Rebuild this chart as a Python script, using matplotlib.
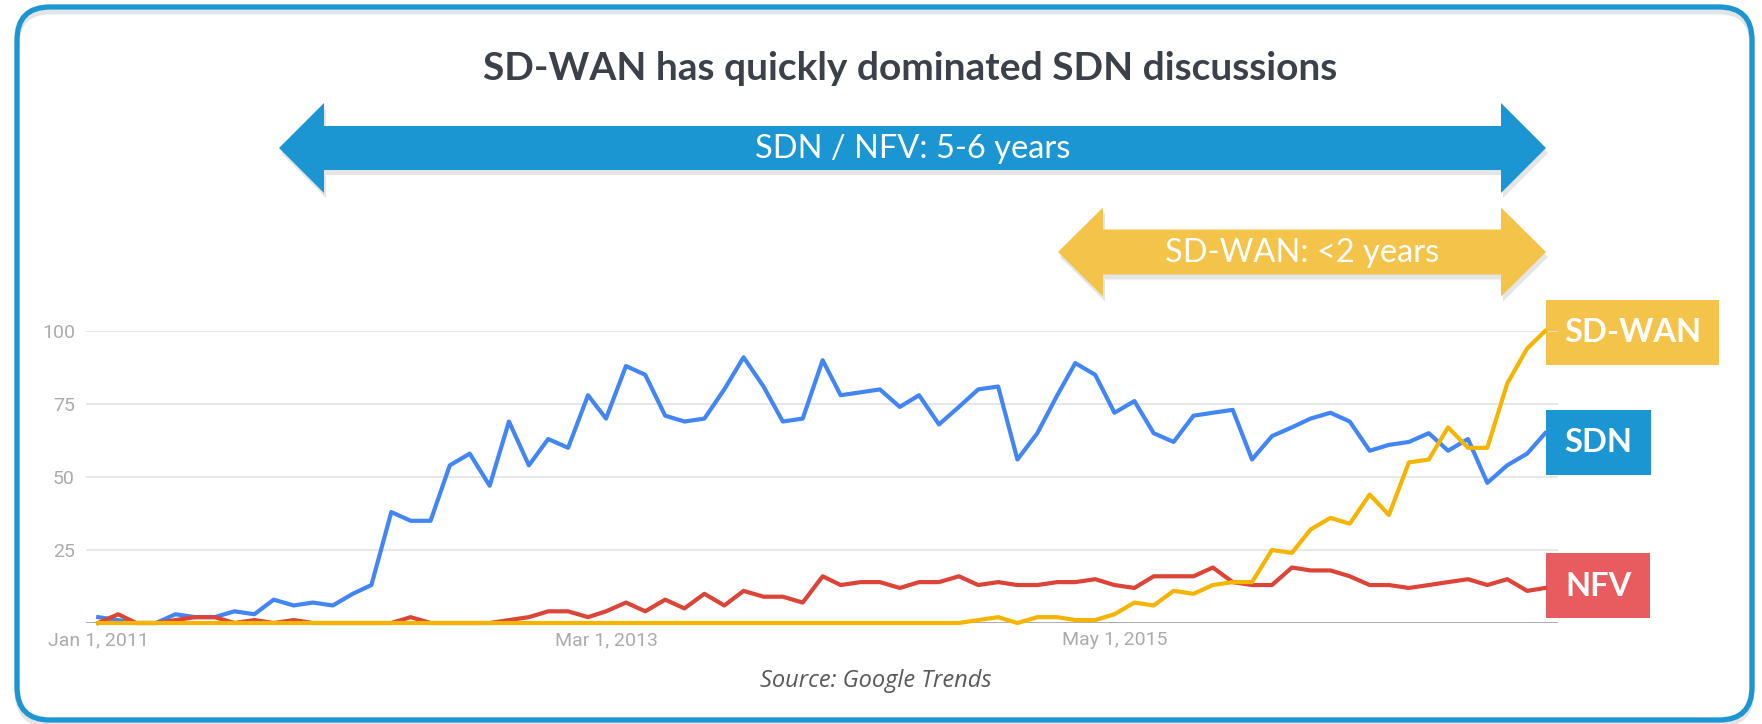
import pandas as pd
import matplotlib
matplotlib.use("Agg")
import matplotlib.pyplot as plt
from matplotlib.patches import Polygon, FancyBboxPatch, Rectangle

W, H = 1762, 724

# monthly Google Trends interest, Jan 2011 - Mar 2017
months = pd.date_range("2011-01-01", periods=75, freq="MS")
sdn = [2, 1, 0, 0, 3, 2, 2, 4, 3, 8, 6, 7, 6, 10, 13, 38, 35, 35, 54, 58,
       47, 69, 54, 63, 60, 78, 70, 88, 85, 71, 69, 70, 80, 91, 81, 69, 70, 90, 78, 79,
       80, 74, 78, 68, 74, 80, 81, 56, 65, 78, 89, 85, 72, 76, 65, 62, 71, 72, 73, 56,
       64, 67, 70, 72, 69, 59, 61, 62, 65, 59, 63, 48, 54, 58, 65]
nfv = [0, 3, 0, 0, 1, 2, 2, 0, 1, 0, 1, 0, 0, 0, 0, 0, 2, 0, 0, 0,
       0, 1, 2, 4, 4, 2, 4, 7, 4, 8, 5, 10, 6, 11, 9, 9, 7, 16, 13, 14,
       14, 12, 14, 14, 16, 13, 14, 13, 13, 14, 14, 15, 13, 12, 16, 16, 16, 19, 14, 13,
       13, 19, 18, 18, 16, 13, 13, 12, 13, 14, 15, 13, 15, 11, 12]
sdwan = [0] * 45 + [1, 2, 0, 2, 2, 1, 1, 3, 7, 6, 11, 10, 13, 14, 14,
                    25, 24, 32, 36, 34, 44, 37, 55, 56, 67, 60, 60, 82, 94, 100]

tick_dates = pd.to_datetime(["2011-01-01", "2013-03-01", "2015-05-01"])
tick_labels = ["Jan 1, 2011", "Mar 1, 2013", "May 1, 2015"]
y_ticks = [25, 50, 75, 100]

series = [("SDN", sdn, "#4285F4"), ("NFV", nfv, "#DB4437"), ("SD-WAN", sdwan, "#F4B400")]

FRAME_BLUE = "#1B96D3"
BANNER_YELLOW = "#F4C44A"
TAG_RED = "#E85C60"
TITLE_FONT = ["Lato", "DejaVu Sans"]

fig = plt.figure(figsize=(W / 100, H / 100), dpi=100)

# background layer in pixel coordinates for the slide decorations
bg = fig.add_axes([0, 0, 1, 1])
bg.set_xlim(0, W)
bg.set_ylim(H, 0)
bg.axis("off")

bg.add_patch(FancyBboxPatch((17, 12), 1735, 713, boxstyle="round,pad=0,rounding_size=33",
                            fc="none", ec="#E3E4E6", lw=3.5))
bg.add_patch(FancyBboxPatch((17, 7), 1735, 713, boxstyle="round,pad=0,rounding_size=33",
                            fc="none", ec=FRAME_BLUE, lw=3.8))

bg.text(910, 68, "SD-WAN has quickly dominated SDN discussions", ha="center", va="center",
        fontsize=28, fontweight="bold", color="#3B4049", family=TITLE_FONT)


def banner(x0, x1, yc, body_h, head_h, head_w, color, label, size):
    pts = [(x0, yc), (x0 + head_w, yc - head_h / 2), (x0 + head_w, yc - body_h / 2),
           (x1 - head_w, yc - body_h / 2), (x1 - head_w, yc - head_h / 2), (x1, yc),
           (x1 - head_w, yc + head_h / 2), (x1 - head_w, yc + body_h / 2),
           (x0 + head_w, yc + body_h / 2), (x0 + head_w, yc + head_h / 2)]
    shadow = [(x + 2, y + 5) for x, y in pts]
    bg.add_patch(Polygon(shadow, closed=True, fc="#E4E5E7", ec="none"))
    bg.add_patch(Polygon(pts, closed=True, fc=color, ec="none"))
    bg.text((x0 + x1) / 2, yc + 1, label, ha="center", va="center", fontsize=size,
            color="white", family=TITLE_FONT)


banner(279, 1546, 148, 44, 90, 45, FRAME_BLUE, "SDN / NFV: 5-6 years", 23.5)
banner(1058, 1546, 252, 45, 89, 45, BANNER_YELLOW, "SD-WAN: <2 years", 23.5)

# series tags on the right
tags = [("SD-WAN", BANNER_YELLOW, 1546, 300, 173), ("SDN", FRAME_BLUE, 1546, 410, 105),
        ("NFV", TAG_RED, 1546, 553, 104)]
for name, color, x, y, w in tags:
    bg.add_patch(Rectangle((x, y), w, 65, fc=color, ec="none"))
    bg.text(x + w / 2, y + 33, name, ha="center", va="center", fontsize=23.5,
            fontweight="bold", color="white", family=TITLE_FONT)

bg.text(876, 681, "Source: Google Trends", ha="center", va="center", fontsize=17,
        style="italic", color="#595959", family=["Open Sans", "DejaVu Sans"])

# the trends chart itself
ax = fig.add_axes([86 / W, 1 - 623 / H, (1558 - 86) / W, (623 - 331) / H])
ax.patch.set_alpha(0)
for s in ax.spines.values():
    s.set_visible(False)

ax.set_ylim(0, 100)
ax.set_xlim(months[0] - pd.Timedelta(days=19), months[-1] + pd.Timedelta(days=20))
ax.set_yticks(y_ticks)
ax.yaxis.grid(True, color="#E3E3E3", lw=1.2)
ax.set_axisbelow(True)
ax.axhline(0, color="#9E9E9E", lw=1.2, zorder=1)

for name, vals, color in series:
    ax.plot(months, vals, color=color, lw=3.0, solid_joinstyle="round", clip_on=False,
            zorder=3, label=name)

ax.set_xticks(tick_dates)
ax.set_xticklabels(tick_labels)
ax.tick_params(length=0, labelsize=14, labelcolor="#ABABAB", pad=6)
ax.tick_params(axis="y", pad=8)
for lab in ax.get_xticklabels() + ax.get_yticklabels():
    lab.set_family(["Roboto", "DejaVu Sans"])

fig.savefig("out.png", dpi=100)
